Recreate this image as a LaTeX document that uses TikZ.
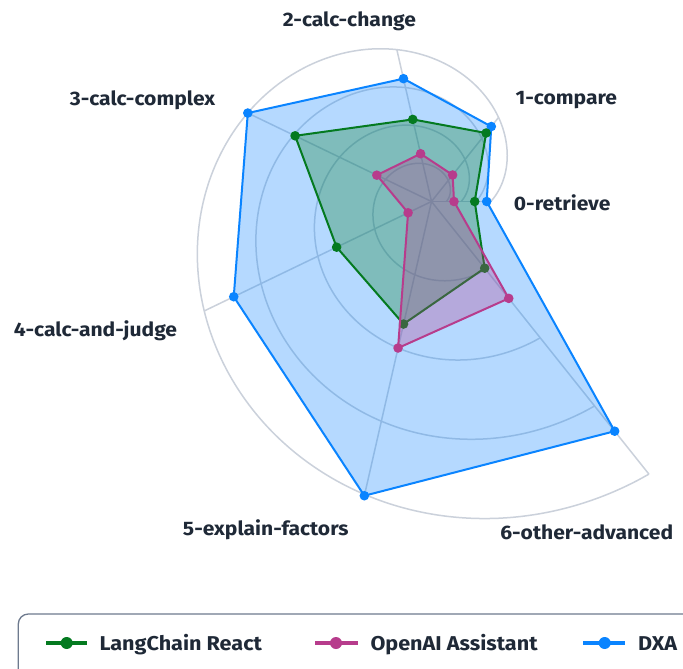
\documentclass[tikz,border=0pt]{standalone}
\usepackage{fontspec}
\setmainfont{Fira Sans}
\newfontfamily\widefont{Fira Sans}[FakeStretch=1.08]
\definecolor{gridc}{RGB}{203,209,219}
\definecolor{blueC}{RGB}{10,132,255}
\definecolor{greenC}{RGB}{4,122,32}
\definecolor{pinkC}{RGB}{183,60,140}
\definecolor{textC}{RGB}{31,41,55}
\definecolor{legbord}{RGB}{110,122,142}
\begin{document}
\begin{tikzpicture}[x=1pt,y=1pt,
  gridline/.style={draw=gridc, line width=1.5pt},
  serline/.style={draw=#1, fill=#1, fill opacity=0.3, line width=2pt, line join=round},
  axlabel/.style={anchor=base, text=textC, font=\widefont\fontsize{19.5}{23}\selectfont\bfseries, inner sep=0pt},
  legtext/.style={anchor=base west, text=textC, font=\widefont\fontsize{20}{24}\selectfont\bfseries, inner sep=0pt},
  legline/.style={draw=#1, line width=4pt}]
\useasboundingbox[fill=white] (0,0) rectangle (683,-669);
\begin{scope}[shift={(431.5,-201.5)}]
  % spiral grid
  \foreach \f in {0.25,0.5,0.75,1}
    \draw[gridline] plot[domain=0:308.571, samples=140, smooth] (\x:{\f*(59.3+0.938*\x)});
  \foreach \k in {0,...,6}
    \draw[gridline] (0,0) -- ({\k*360/7}:{59.3+0.938*\k*360/7});
  % DXA
  \foreach \r [count=\k from 0] in {55.2,95.9,126.0,203.9,219.5,301.8,293.8}
    \coordinate (b\k) at ({\k*360/7}:\r);
  \draw[serline=blueC] (b0)--(b1)--(b2)--(b3)--(b4)--(b5)--(b6)--cycle;
  \foreach \k in {0,...,6} \fill[blueC] (b\k) circle (4.8);
  % LangChain
  \foreach \r [count=\k from 0] in {43.2,87.6,84.2,151.4,105.3,125.7,85.3}
    \coordinate (g\k) at ({\k*360/7}:\r);
  \draw[serline=greenC] (g0)--(g1)--(g2)--(g3)--(g4)--(g5)--(g6)--cycle;
  \foreach \k in {0,...,6} \fill[greenC] (g\k) circle (4.8);
  % OpenAI
  \foreach \r [count=\k from 0] in {22.5,33.9,49.0,60.7,26.0,150.3,123.9}
    \coordinate (p\k) at ({\k*360/7}:\r);
  \draw[serline=pinkC] (p0)--(p1)--(p2)--(p3)--(p4)--(p5)--(p6)--cycle;
  \foreach \k in {0,...,6} \fill[pinkC] (p\k) circle (4.8);
\end{scope}
% axis labels
\node[axlabel] (l0) at (562.2,-210) {0-retrieve};
\node[axlabel] (l1) at (566.3,-104.3) {1-compare};
\node[axlabel] (l2) at (349.4,-26.7) {2-calc-change};
\node[axlabel] (l3) at (142.5,-105) {3-calc-complex};
\node[axlabel] (l4) at (95.5,-336) {4-calc-and-judge};
\node[axlabel] (l5) at (265.8,-535) {5-explain-factors};
\node[axlabel] (l6) at (586.7,-539.3) {6-other-advanced};
% legend
\draw[draw=legbord, line width=1.3pt, rounded corners=10pt] (18.3,-614) rectangle (740,-720);
\coordinate (lg1) at (46,-643); \coordinate (lg2) at (87.3,-643);
\draw[legline=greenC] (lg1) -- (lg2);
\fill[greenC] (66.7,-643) circle (6);
\node[legtext] (tg) at (99.3,-650.7) {LangChain React};
\coordinate (lp1) at (315,-643); \coordinate (lp2) at (357.5,-643);
\draw[legline=pinkC] (lp1) -- (lp2);
\fill[pinkC] (336,-643) circle (6);
\node[legtext] (tp) at (370.3,-650.7) {OpenAI Assistant};
\coordinate (lb1) at (583,-643); \coordinate (lb2) at (624.7,-643);
\draw[legline=blueC] (lb1) -- (lb2);
\fill[blueC] (604.7,-643) circle (6);
\node[legtext] (tb) at (638,-650.7) {DXA};
\end{tikzpicture}
\end{document}
